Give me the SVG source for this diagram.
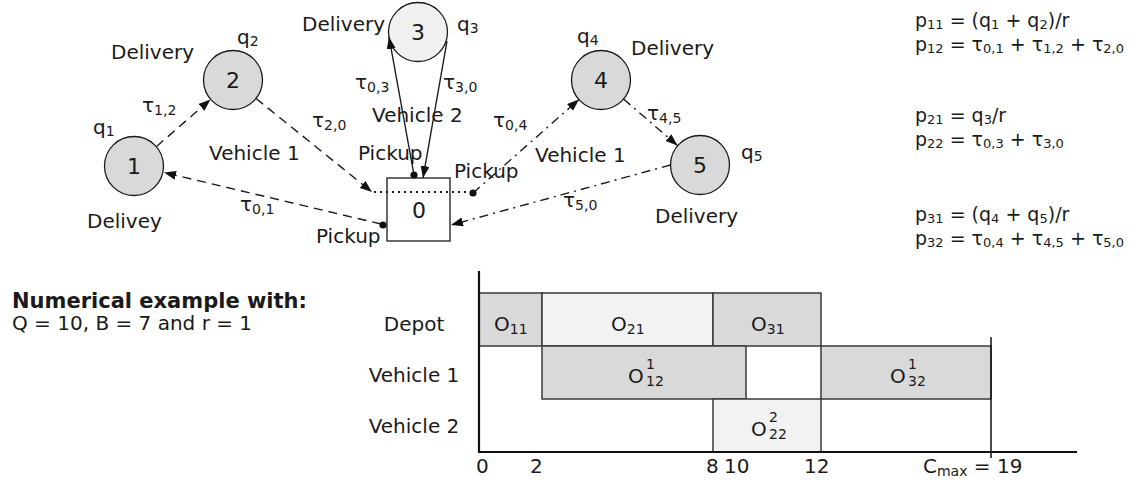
<svg xmlns="http://www.w3.org/2000/svg" width="1141" height="488" viewBox="0 0 1141 488">
<style>
text{font-family:"DejaVu Sans","Liberation Sans",sans-serif;font-size:20px;fill:#1a1a1a}
.s{font-size:14px}
.f{font-size:19px}
.fs{font-size:13px}
.num{font-size:22px;text-anchor:middle}
.mid{text-anchor:middle}
.bold{font-weight:bold;font-size:21px}
.n{fill:#d9d9d9;stroke:#1a1a1a;stroke-width:1.3}
.n3{fill:#f0f0f0;stroke:#1a1a1a;stroke-width:1.3}
.c{fill:none;stroke:#1a1a1a;stroke-width:1.4}
.dash{stroke-dasharray:9 6}
.dd{stroke-dasharray:9 5 2 5}
.dot{stroke-dasharray:2 4;stroke-width:2}
.bar1{fill:#d9d9d9;stroke:#3a3a3a;stroke-width:1.5}
.bar2{fill:#f2f2f2;stroke:#3a3a3a;stroke-width:1.5}
.ax{stroke:#111;stroke-width:2.2;fill:none}
</style>
<defs>
<marker id="ah" markerWidth="13" markerHeight="10" refX="12" refY="4.5" orient="auto" markerUnits="userSpaceOnUse"><path d="M0,0 L12,4.5 L0,9 z" fill="#111"/></marker>
</defs>

<g id="node-0"><rect x="387" y="178" width="63" height="63" fill="#fff" stroke="#1a1a1a" stroke-width="1.3"/><text x="419" y="218" class="num">0</text></g>
<g id="node-1"><circle cx="134" cy="166" r="29.5" class="n"/><text x="134" y="174" class="num">1</text></g>
<g id="node-2"><circle cx="233" cy="80" r="29.5" class="n"/><text x="233" y="88" class="num">2</text></g>
<g id="node-3"><circle cx="418" cy="32" r="29.5" class="n3"/><text x="418" y="40" class="num">3</text></g>
<g id="node-4"><circle cx="601" cy="80" r="29.5" class="n"/><text x="601" y="88" class="num">4</text></g>
<g id="node-5"><circle cx="700" cy="165" r="29.5" class="n"/><text x="700" y="173" class="num">5</text></g>

<g id="connectors">
<path class="c dash" d="M156.5,146.5 L210.5,99.5" marker-end="url(#ah)"/>
<path class="c dash" d="M256,98.5 L372,192" marker-end="url(#ah)"/>
<path class="c dash" d="M381,224 L164,172.5" marker-end="url(#ah)"/>
<path class="c" d="M414,175 L389,37" marker-end="url(#ah)"/>
<path class="c" d="M447,41 L423,178" marker-end="url(#ah)"/>
<path class="c dd" d="M473,193 L579,99.5" marker-end="url(#ah)"/>
<path class="c dd" d="M623.5,99 L677.5,145.5" marker-end="url(#ah)"/>
<path class="c dd" d="M670.5,165 L451,225" marker-end="url(#ah)"/>
<path class="c dot" d="M374,192 L470,192"/>
<circle cx="414" cy="175" r="3.6" fill="#111"/>
<circle cx="473" cy="193" r="3.6" fill="#111"/>
<circle cx="383" cy="225" r="3.6" fill="#111"/>
</g>

<g id="labels">
<text x="111" y="59">Delivery</text>
<text x="237" y="44">q<tspan class="s" dy="2">2</tspan></text>
<text x="142" y="112">τ<tspan class="s" dy="3">1,2</tspan></text>
<text x="93" y="134">q<tspan class="s" dy="2">1</tspan></text>
<text x="209" y="160">Vehicle 1</text>
<text x="312" y="127">τ<tspan class="s" dy="3">2,0</tspan></text>
<text x="240" y="211">τ<tspan class="s" dy="3">0,1</tspan></text>
<text x="87" y="228">Delivey</text>
<text x="316" y="243">Pickup</text>
<text x="302" y="31">Delivery</text>
<text x="457" y="31">q<tspan class="s" dy="2">3</tspan></text>
<text x="355" y="89">τ<tspan class="s" dy="3">0,3</tspan></text>
<text x="443" y="89">τ<tspan class="s" dy="3">3,0</tspan></text>
<text x="372" y="122">Vehicle 2</text>
<text x="358" y="160">Pickup</text>
<text x="454" y="178">Pickup</text>
<text x="493" y="127">τ<tspan class="s" dy="3">0,4</tspan></text>
<text x="535" y="162">Vehicle 1</text>
<text x="647" y="120">τ<tspan class="s" dy="3">4,5</tspan></text>
<text x="577" y="43">q<tspan class="s" dy="2">4</tspan></text>
<text x="631" y="55">Delivery</text>
<text x="741" y="159">q<tspan class="s" dy="2">5</tspan></text>
<text x="655" y="223">Delivery</text>
<text x="563" y="207">τ<tspan class="s" dy="3">5,0</tspan></text>
</g>

<g id="formulas">
<text x="915" y="27" class="f">p<tspan class="fs" dy="2">11</tspan><tspan dy="-2"> = (q</tspan><tspan class="fs" dy="2">1</tspan><tspan dy="-2"> + q</tspan><tspan class="fs" dy="2">2</tspan><tspan dy="-2">)/r</tspan></text>
<text x="915" y="51" class="f">p<tspan class="fs" dy="2">12</tspan><tspan dy="-2"> = τ</tspan><tspan class="fs" dy="2">0,1</tspan><tspan dy="-2"> + τ</tspan><tspan class="fs" dy="2">1,2</tspan><tspan dy="-2"> + τ</tspan><tspan class="fs" dy="2">2,0</tspan></text>
<text x="915" y="122" class="f">p<tspan class="fs" dy="2">21</tspan><tspan dy="-2"> = q</tspan><tspan class="fs" dy="2">3</tspan><tspan dy="-2">/r</tspan></text>
<text x="915" y="146" class="f">p<tspan class="fs" dy="2">22</tspan><tspan dy="-2"> = τ</tspan><tspan class="fs" dy="2">0,3</tspan><tspan dy="-2"> + τ</tspan><tspan class="fs" dy="2">3,0</tspan></text>
<text x="915" y="221" class="f">p<tspan class="fs" dy="2">31</tspan><tspan dy="-2"> = (q</tspan><tspan class="fs" dy="2">4</tspan><tspan dy="-2"> + q</tspan><tspan class="fs" dy="2">5</tspan><tspan dy="-2">)/r</tspan></text>
<text x="915" y="245" class="f">p<tspan class="fs" dy="2">32</tspan><tspan dy="-2"> = τ</tspan><tspan class="fs" dy="2">0,4</tspan><tspan dy="-2"> + τ</tspan><tspan class="fs" dy="2">4,5</tspan><tspan dy="-2"> + τ</tspan><tspan class="fs" dy="2">5,0</tspan></text>
</g>

<g id="example">
<text x="12" y="308" class="bold">Numerical example with:</text>
<text x="12" y="330">Q = 10, B = 7 and r = 1</text>
</g>

<g id="gantt">
<rect x="479" y="293" width="63" height="53" class="bar1"/>
<rect x="542" y="293" width="171" height="53" class="bar2"/>
<rect x="713" y="293" width="108" height="53" class="bar1"/>
<rect x="542" y="346" width="204" height="53" class="bar1"/>
<rect x="821" y="346" width="170" height="53" class="bar1"/>
<rect x="713" y="399" width="108" height="53" class="bar2"/>
<path class="ax" d="M479,271 L479,452 L1077,452"/>
<path d="M991,337 L991,458" stroke="#111" stroke-width="1.5"/>
<text x="414" y="331" class="mid">Depot</text>
<text x="414" y="382" class="mid">Vehicle 1</text>
<text x="414" y="433" class="mid">Vehicle 2</text>
<text x="494" y="331">O<tspan class="s" dy="3">11</tspan></text>
<text x="611" y="331">O<tspan class="s" dy="3">21</tspan></text>
<text x="751" y="331">O<tspan class="s" dy="3">31</tspan></text>
<text x="628" y="383">O</text><text x="646" y="369" class="s">1</text><text x="646" y="386" class="s">12</text>
<text x="890" y="383">O</text><text x="908" y="369" class="s">1</text><text x="908" y="386" class="s">32</text>
<text x="751" y="436">O</text><text x="769" y="422" class="s">2</text><text x="769" y="439" class="s">22</text>
<text x="476" y="473">0</text>
<text x="530" y="473">2</text>
<text x="706" y="473">8</text>
<text x="724" y="473">10</text>
<text x="804" y="473">12</text>
<text x="923" y="473">C<tspan class="s" dy="3">max</tspan><tspan dy="-3"> = 19</tspan></text>
</g>
</svg>
